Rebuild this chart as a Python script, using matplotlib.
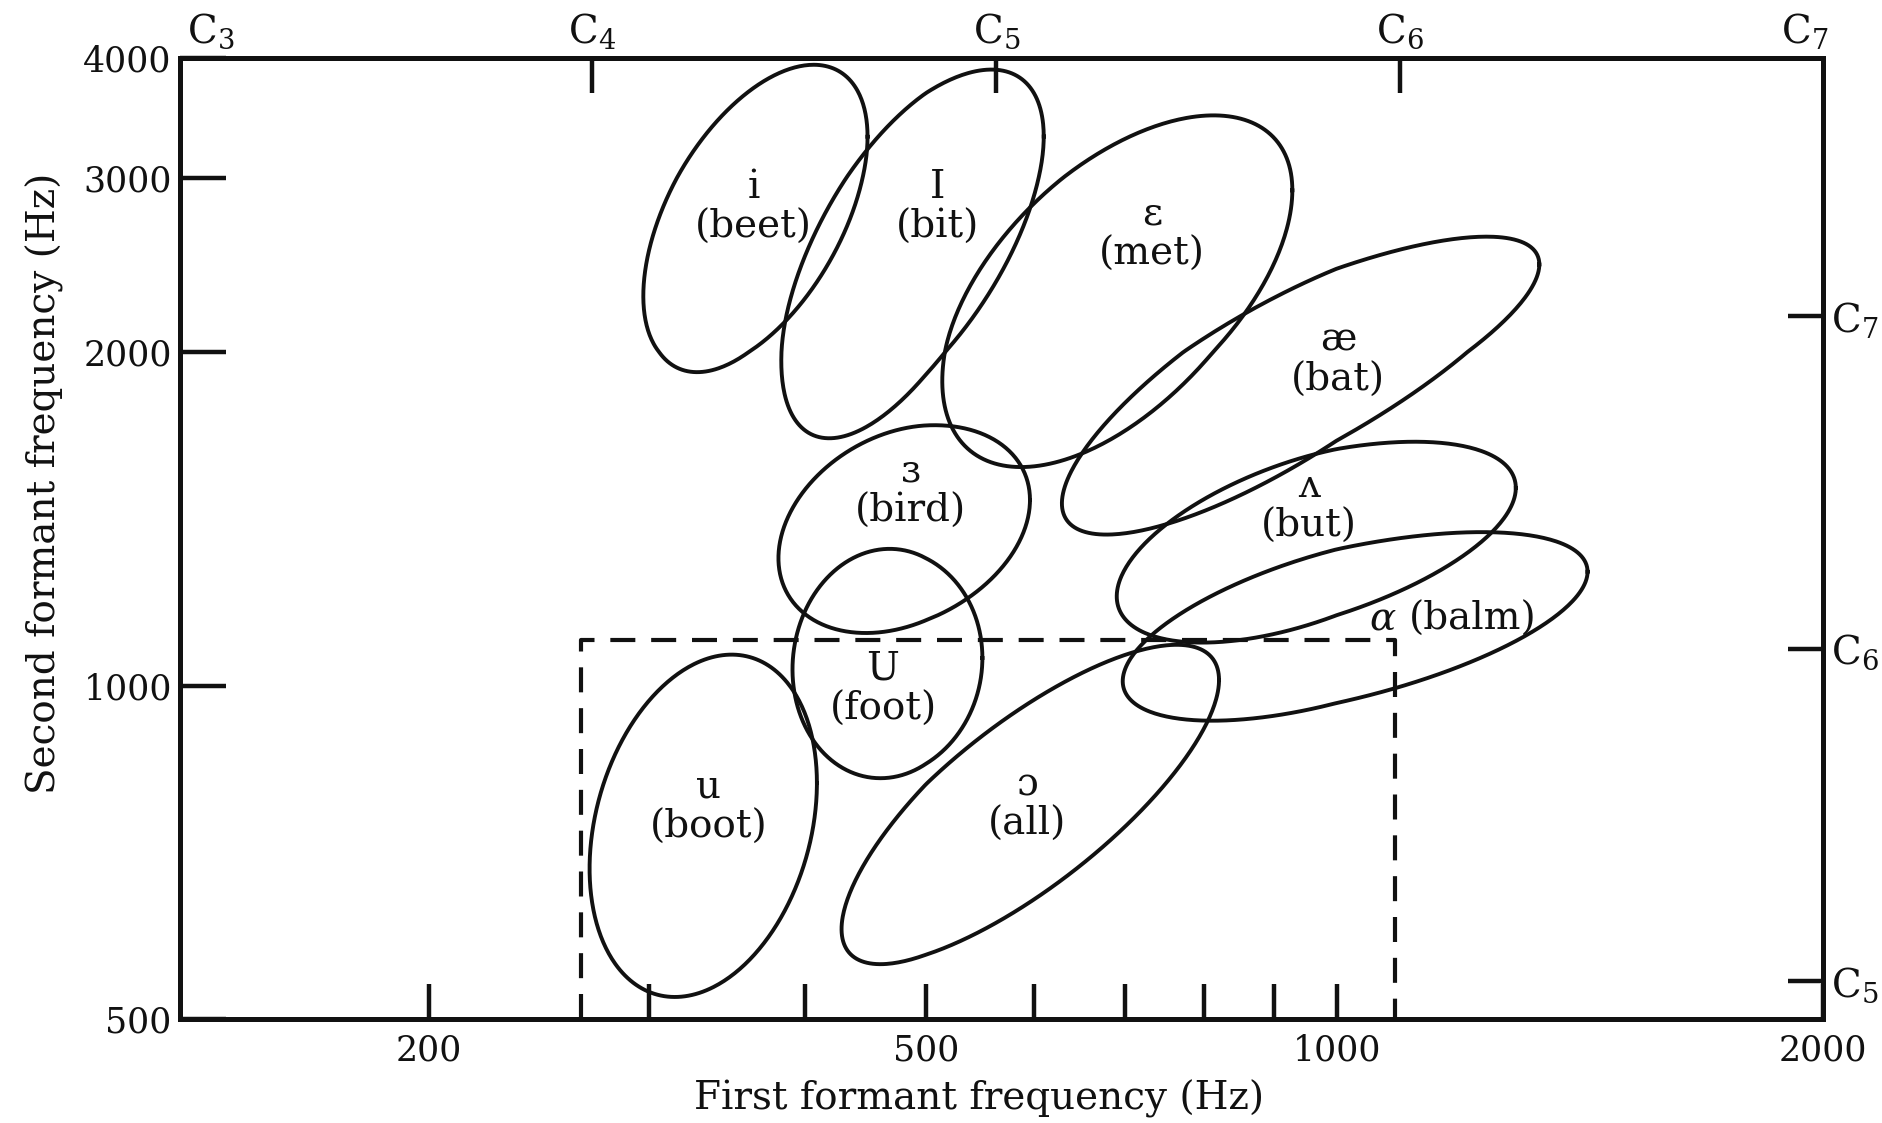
import numpy as np
import matplotlib
matplotlib.use('Agg')
import matplotlib.pyplot as plt
from matplotlib.ticker import NullFormatter, NullLocator
from matplotlib.transforms import ScaledTranslation

plt.rcParams['font.family'] = ['DejaVu Serif']
plt.rcParams['mathtext.fontset'] = 'dejavuserif'

# vowel regions: F1 / F2 extent of each outline (Hz) and its tilt
vowels = ['i', 'I', 'ɛ', 'æ', 'ʌ', 'ɑ', 'ɜ', 'U', 'u', 'ɔ']
words = ['beet', 'bit', 'met', 'bat', 'but', 'balm', 'bird', 'foot', 'boot', 'all']
f1_low = [297, 383, 514, 629, 690, 697, 381, 391, 269, 428]
f1_high = [449, 610, 928, 1335, 1291, 1430, 596, 550, 409, 820]
f2_low = [1918, 1672, 1575, 1369, 1094, 930, 1116, 825, 523, 560]
f2_high = [3933, 3888, 3484, 2616, 1660, 1376, 1718, 1329, 1067, 1089]
tilt = [0.52, 0.62, 0.55, 0.80, 0.54, 0.58, 0.28, 0.05, 0.25, 0.78]
label_f1 = [364, 510, 732, 1002, 955, 1108, 486, 462, 335, 593]
label_f2 = [2798, 2798, 2631, 1966, 1450, 1147, 1498, 993, 777, 781]

# soprano pitch range box (Hz)
box_f1 = [265, 1087]
box_f2 = 1099

# pitch names on the top and right axes
pitch_names = ['C$_3$', 'C$_4$', 'C$_5$', 'C$_6$', 'C$_7$']
pitch_hz = [130.81, 261.63, 523.25, 1046.5, 2093.0]

x_ticks = [200, 500, 1000, 2000]
x_minor = [300, 400, 600, 700, 800, 900]
y_ticks = [500, 1000, 2000, 3000, 4000]

# the printed frequency axes are only roughly logarithmic,
# so each one is a log scale bent through a few calibration points
X_CAL_HZ = np.log10([126.4, 200, 500, 1000, 2000])
X_CAL_POS = np.array([150, 357, 771, 1113, 1518])
Y_CAL_HZ = np.log10([500, 1000, 2000, 3000, 4000])
Y_CAL_POS = np.array([0, 277, 555, 700, 800])


def make_scale(cal_log, cal_pos):
    def fwd(v):
        v = np.clip(np.asarray(v, dtype=float), 1e-6, None)
        return np.interp(np.log10(v), cal_log, cal_pos)

    def inv(p):
        return 10 ** np.interp(p, cal_pos, cal_log)
    return fwd, inv


ink = '#111111'
fig = plt.figure(figsize=(18.83, 11.23), dpi=100)
ax = fig.add_axes([0.0957, 0.0930, 0.8724, 0.8556])
ax.set_xscale('function', functions=make_scale(X_CAL_HZ, X_CAL_POS))
ax.set_yscale('function', functions=make_scale(Y_CAL_HZ, Y_CAL_POS))
ax.set_xlim(126.4, 2000)
ax.set_ylim(500, 4000)

t = np.linspace(0, 2 * np.pi, 400)
for k in range(len(vowels)):
    lx, hx = np.log10(f1_low[k]), np.log10(f1_high[k])
    ly, hy = np.log10(f2_low[k]), np.log10(f2_high[k])
    cx, w = (lx + hx) / 2, (hx - lx) / 2
    cy, h = (ly + hy) / 2, (hy - ly) / 2
    r = tilt[k]
    xs = 10 ** (cx + w * np.cos(t))
    ys = 10 ** (cy + h * (r * np.cos(t) + np.sqrt(1 - r * r) * np.sin(t)))
    ax.plot(xs, ys, color=ink, lw=2.8)

    if words[k] == 'balm':
        ax.text(label_f1[k], label_f2[k], vowels[k] + ' ', ha='right', va='center',
                fontsize=28, style='italic', color=ink)
        ax.text(label_f1[k], label_f2[k], '(' + words[k] + ')', ha='left', va='center',
                fontsize=28, color=ink)
    else:
        ax.text(label_f1[k], label_f2[k], vowels[k] + '\n(' + words[k] + ')',
                ha='center', va='center', fontsize=28, linespacing=1.1, color=ink)

ax.plot([box_f1[0], box_f1[0], box_f1[1], box_f1[1]],
        [500, box_f2, box_f2, 500],
        color=ink, lw=3.0, ls=(0, (6.0, 3.8)), clip_on=False)

ax.set_xticks(x_ticks, labels=[str(v) for v in x_ticks])
ax.set_xticks(x_minor, minor=True)
ax.xaxis.set_minor_formatter(NullFormatter())
ax.set_yticks(y_ticks, labels=[str(v) for v in y_ticks])
ax.yaxis.set_minor_locator(NullLocator())
ax.tick_params(axis='x', which='both', direction='in', length=25, width=3.2,
               labelsize=25, pad=11, colors=ink)
ax.tick_params(axis='y', direction='in', length=33, width=3.2, labelsize=25, pad=6,
               colors=ink)

for s in ax.spines.values():
    s.set_linewidth(3.6)
    s.set_color(ink)

ax.set_xlabel('First formant frequency (Hz)', fontsize=28, color=ink)
ax.set_ylabel('Second formant frequency (Hz)', fontsize=28, color=ink)
ax.xaxis.set_label_coords(0.486, -0.064)
ax.yaxis.set_label_coords(-0.071, 0.557)

# pitch scale along the top
ax_top = ax.twiny()
ax_top.set_xscale('log')
ax_top.set_xlim(129.0, 2160.6)
ax_top.set_xticks(pitch_hz, labels=pitch_names)
ax_top.xaxis.set_minor_locator(NullLocator())
ax_top.tick_params(axis='x', direction='in', length=25, width=3.2, labelsize=28, pad=5,
                   colors=ink)
top_ticks = ax_top.xaxis.get_major_ticks()
for i in (0, len(pitch_hz) - 1):
    top_ticks[i].tick2line.set_visible(False)
lab = top_ticks[0].label2
lab.set_transform(lab.get_transform() + ScaledTranslation(0.22, 0, fig.dpi_scale_trans))

# pitch scale along the right side
ax_r = ax.twinx()
ax_r.set_yscale('log')
ax_r.set_ylim(484.2, 3583)
ax_r.set_yticks(pitch_hz[2:], labels=pitch_names[2:])
ax_r.yaxis.set_minor_locator(NullLocator())
ax_r.tick_params(axis='y', direction='in', length=25, width=3.2, labelsize=28, pad=6,
                 colors=ink)

for a in (ax_top, ax_r):
    for s in a.spines.values():
        s.set_visible(False)

fig.savefig('out.png', dpi=100, facecolor='white')
